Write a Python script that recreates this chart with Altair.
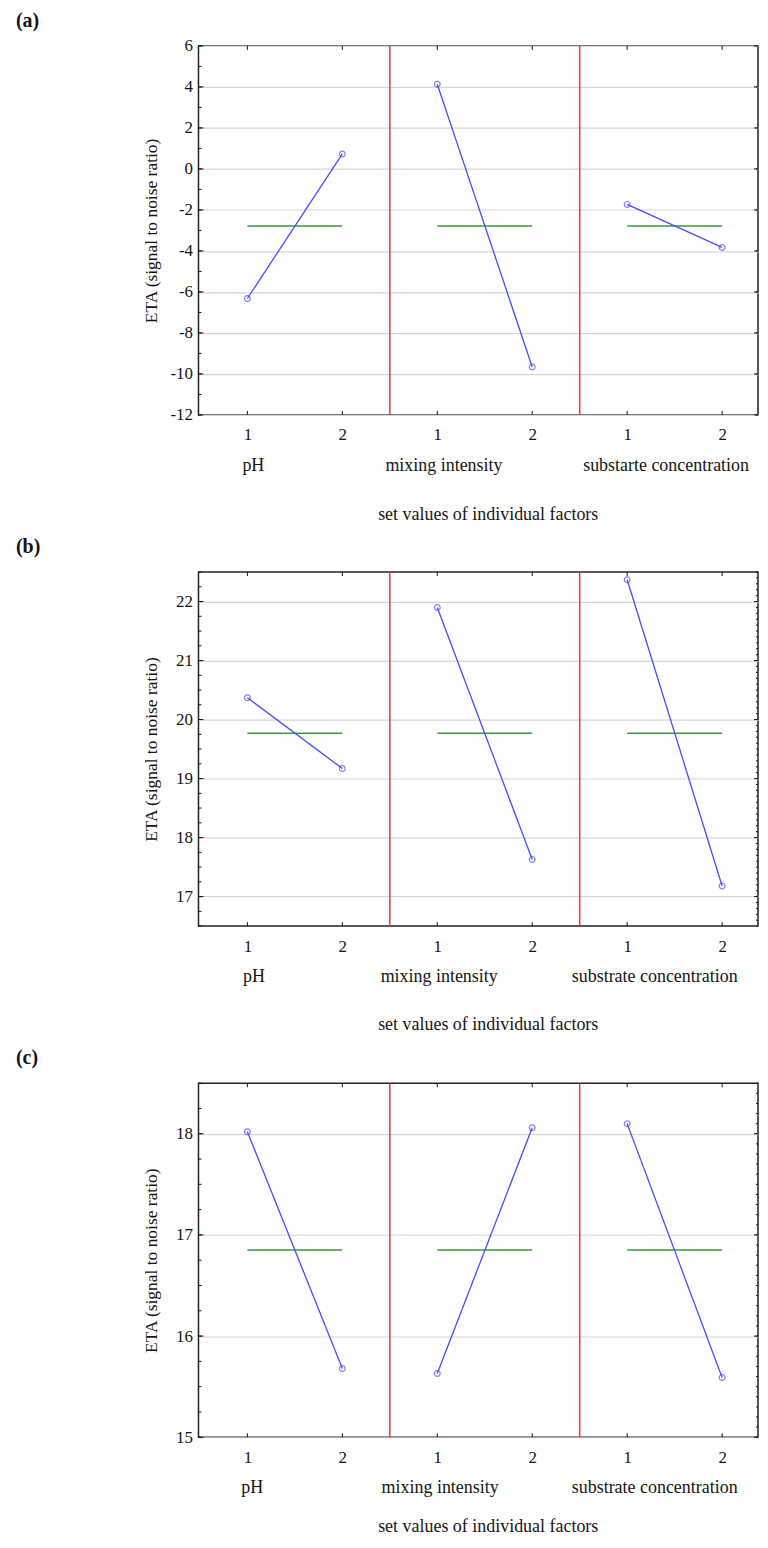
import altair as alt
import pandas as pd

# ---------------- data ----------------
positions = [1, 2, 3, 4, 5, 6]
level_labels = ["1", "2", "1", "2", "1", "2"]
separators = [2.5, 4.5]

groups_a = ["pH", "mixing intensity", "substarte concentration"]
groups_bc = ["pH", "mixing intensity", "substrate concentration"]

a_values = [-6.32, 0.73, 4.13, -9.66, -1.73, -3.83]
a_mean = -2.78
b_values = [20.37, 19.17, 21.90, 17.63, 22.37, 17.18]
b_mean = 19.77
c_values = [18.02, 15.68, 15.63, 18.06, 18.10, 15.59]
c_mean = 16.85

a_domain = [-12, 6]
b_domain = [16.5, 22.5]
c_domain = [15, 18.5]
a_major = [-12, -10, -8, -6, -4, -2, 0, 2, 4, 6]
b_major = [17, 18, 19, 20, 21, 22]
c_major = [15, 16, 17, 18]
x_domain = [0.485, 6.378]

# group-label anchor positions (x in factor-level units)
a_label_x = [1.063, 3.07, 5.41]
b_label_x = [1.07, 3.02, 5.29]
c_label_x = [1.05, 3.03, 5.29]

tags = ["(a)", "(b)", "(c)"]
x_title = "set values of individual factors"
y_title = "ETA (signal to noise ratio)"

# ---------------- style ----------------
FONT = "Liberation Serif"
TXT = "#151515"
BLUE = "#4a4aff"
GREEN = "#3a9a3a"
RED = "#ff3333"
GRID = "#d6d6d6"
W = 561


def ticks_between(lo, hi, step):
    n = int(round((hi - lo) / step))
    return [round(lo + i * step, 3) for i in range(n + 1)]


def panel(values, mean, groups, label_x, domain, major, minor_step, right_step, H, tag, title_y):
    xs = alt.Scale(domain=x_domain, nice=False, zero=False)
    ys = alt.Scale(domain=domain, nice=False, zero=False)

    pts = pd.DataFrame({
        "x": positions,
        "y": values,
        "group": [g for g in groups for _ in range(2)],
    })
    means = pd.DataFrame({"x": positions[0::2], "x2": positions[1::2], "y": [mean] * 3})
    seps = pd.DataFrame({"x": separators})
    glab = pd.DataFrame({"x": label_x, "text": groups})
    left_minor = pd.DataFrame({"y": ticks_between(domain[0], domain[1], minor_step)})
    right_minor = pd.DataFrame({"y": ticks_between(domain[0], domain[1], right_step)})
    majors = pd.DataFrame({"y": major})
    xt = pd.DataFrame({"x": positions})
    tagdf = pd.DataFrame({"t": [tag]})

    label_array = "[" + ",".join("'%s'" % s for s in level_labels) + "]"

    xaxis = alt.Axis(
        values=positions,
        labelExpr=label_array + "[datum.value - 1]",
        labelFont=FONT, labelFontSize=17, labelColor=TXT,
        labelPadding=20, labelBaseline="middle", labelFlush=False, labelOverlap=False,
        ticks=False, tickSize=0, domain=False, grid=False,
        title=x_title, titleFont=FONT, titleFontSize=18, titleFontWeight="normal",
        titleColor=TXT, titleX=290, titleY=title_y, titleAlign="center", titleBaseline="middle",
    )
    yaxis = alt.Axis(
        values=major,
        labelExpr="datum.value < 0 ? '-' + abs(datum.value) : '' + datum.value",
        labelFont=FONT, labelFontSize=17, labelColor=TXT,
        labelPadding=6, labelBaseline="middle", labelFlush=False, labelOverlap=False,
        ticks=False, tickSize=0, domain=False,
        grid=True, gridColor=GRID, gridWidth=1.2,
        title=y_title, titleFont=FONT, titleFontSize=17.5, titleFontWeight="normal",
        titleColor=TXT, titleX=-47, titleY=H / 2, titleAngle=270,
        titleAlign="center", titleBaseline="middle",
    )

    def X(field="x:Q"):
        return alt.X(field, scale=xs, axis=xaxis)

    def Y(field="y:Q"):
        return alt.Y(field, scale=ys, axis=yaxis)

    sep = alt.Chart(seps).mark_rule(color=RED, strokeWidth=1.5).encode(x=X())
    mean_rules = alt.Chart(means).mark_rule(color=GREEN, strokeWidth=1.5).encode(
        x=X(), x2="x2:Q", y=Y(),
    )
    lines = alt.Chart(pts).mark_line(color=BLUE, strokeWidth=1.3).encode(
        x=X(), y=Y(), detail="group:N",
    )
    points = alt.Chart(pts).mark_point(
        shape="circle", filled=False, color=BLUE, size=34, strokeWidth=1.2
    ).encode(x=X(), y=Y())
    bottom_ticks = alt.Chart(xt).mark_rule(color=TXT, strokeWidth=1).encode(
        x=X(), y=alt.value(H - 4), y2=alt.value(H),
    )
    top_ticks = alt.Chart(xt).mark_rule(color=TXT, strokeWidth=1).encode(
        x=X(), y=alt.value(0), y2=alt.value(4),
    )
    lmin = alt.Chart(left_minor).mark_rule(color=TXT, strokeWidth=1).encode(
        y=Y(), x=alt.value(0), x2=alt.value(3),
    )
    lmaj = alt.Chart(majors).mark_rule(color=TXT, strokeWidth=1).encode(
        y=Y(), x=alt.value(0), x2=alt.value(5),
    )
    rmin = alt.Chart(right_minor).mark_rule(color=TXT, strokeWidth=1).encode(
        y=Y(), x=alt.value(W - 2), x2=alt.value(W),
    )
    rmaj = alt.Chart(majors).mark_rule(color=TXT, strokeWidth=1).encode(
        y=Y(), x=alt.value(W - 4), x2=alt.value(W),
    )
    glabels = alt.Chart(glab).mark_text(
        font=FONT, fontSize=18, color=TXT, align="center", baseline="middle"
    ).encode(x=X(), y=alt.value(H + 51), text="text:N")
    tag_text = alt.Chart(tagdf).mark_text(
        font=FONT, fontSize=20, fontWeight="bold", color=TXT, align="left", baseline="alphabetic"
    ).encode(x=alt.value(-183), y=alt.value(-19), text="t:N")

    return alt.layer(
        sep, mean_rules, lines, points,
        bottom_ticks, top_ticks, lmin, lmaj, rmin, rmaj, glabels, tag_text,
    ).properties(width=W, height=H)


pa = panel(a_values, a_mean, groups_a, a_label_x, a_domain, a_major, 1, 2, 370, tags[0], 100)
pb = panel(b_values, b_mean, groups_bc, b_label_x, b_domain, b_major, 0.25, 0.1, 355, tags[1], 99)
pc = panel(c_values, c_mean, groups_bc, c_label_x, c_domain, c_major, 0.25, 0.1, 355, tags[2], 90)

chart = alt.vconcat(pa, pb, pc, spacing=157.5, bounds="flush").properties(
    padding={"left": 7, "top": 0, "right": 0, "bottom": 0},
    background="white",
).configure_view(stroke="#222222", strokeWidth=1.5)

chart.save("out.html", embed_options={"renderer": "svg", "actions": False})
